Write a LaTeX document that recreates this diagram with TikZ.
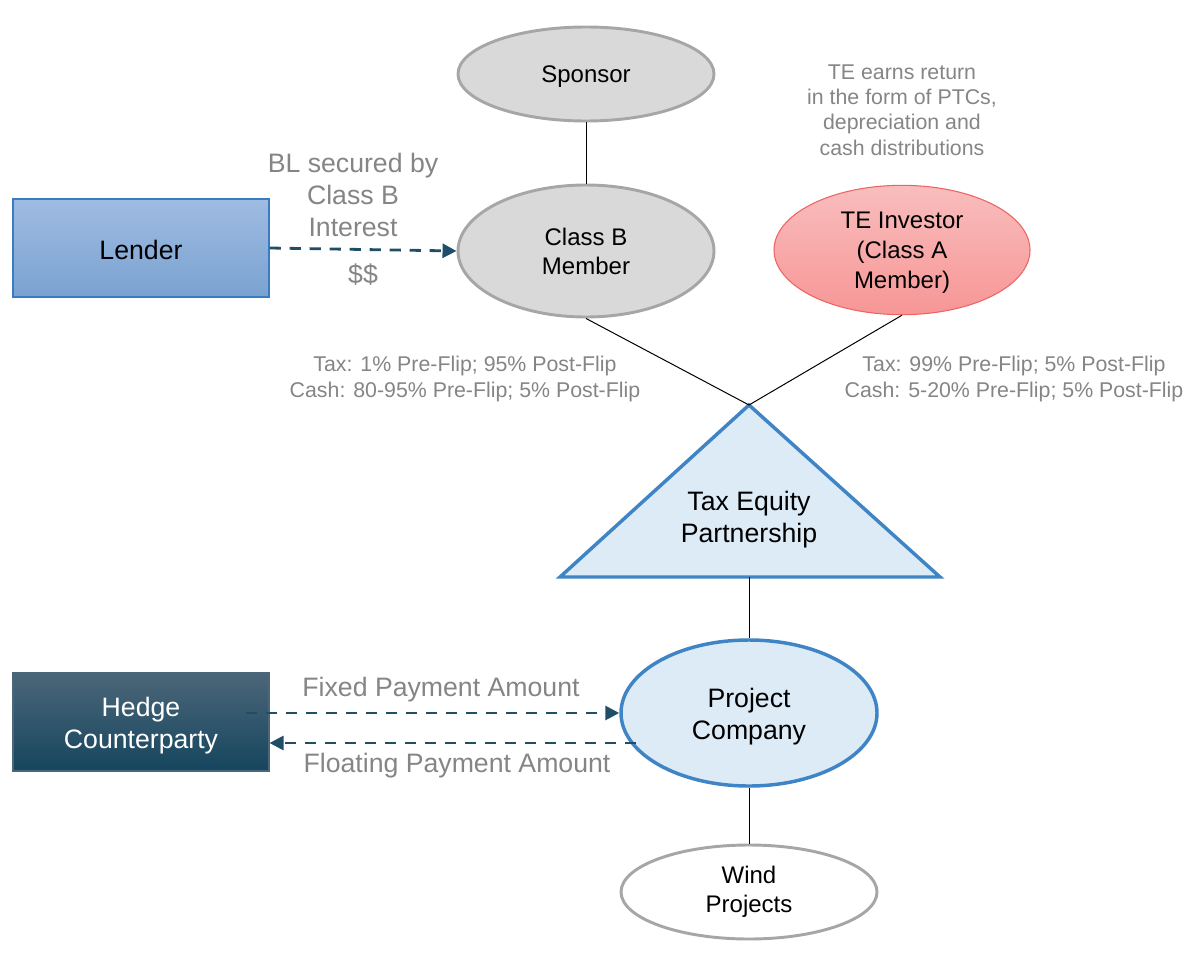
\documentclass[tikz,border=0pt]{standalone}
\usepackage{fontspec}
\setmainfont{Liberation Sans}
\usetikzlibrary{shapes.geometric,arrows.meta}
\definecolor{ggray}{HTML}{D9D9D9}
\definecolor{gborder}{HTML}{A6A6A6}
\definecolor{txtgray}{HTML}{858585}
\definecolor{lblue}{HTML}{DDEBF7}
\definecolor{mblue}{HTML}{3F84C4}
\definecolor{teal}{HTML}{1F4E66}
\definecolor{pinktop}{HTML}{F9BDBD}
\definecolor{pinkbot}{HTML}{F79696}
\definecolor{pinkborder}{HTML}{EE6464}
\definecolor{lendtop}{HTML}{9FBCE2}
\definecolor{lendbot}{HTML}{7AA2D1}
\definecolor{lendborder}{HTML}{3A7CC0}
\definecolor{hedgetop}{HTML}{4C6679}
\definecolor{hedgebot}{HTML}{15465E}
\begin{document}
\begin{tikzpicture}[x=0.75pt,y=-0.75pt,
  grayell/.style={ellipse,draw=gborder,line width=2.2pt,fill=ggray,inner sep=0pt,align=center,minimum width=192pt},
  blueell/.style={ellipse,draw=mblue,line width=2.6pt,fill=lblue,inner sep=0pt,align=center,minimum width=192pt},
  boxnode/.style={rectangle,inner sep=0pt,align=center,minimum width=192pt,minimum height=73.5pt},
  conn/.style={draw=black,line width=0.75pt},
  dasharrow/.style={draw=teal,line width=2.1pt,dash pattern=on 8.5pt off 6.5pt,-{Triangle[length=10.5pt,width=10.5pt]}},
  note/.style={text=txtgray,align=center},
]
\useasboundingbox (0,0) rectangle (1184,956);
% Sponsor
\node[grayell,minimum height=70.5pt,
  label={[font=\fontsize{18}{21.75}\selectfont,yshift=-2.2pt]center:Sponsor}] (sponsor) at (586,74) {};
% Class B
\node[grayell,minimum height=99pt,font=\fontsize{18}{21.75}\selectfont] (classb) at (586,251) {Class B\\Member};
% TE investor
\node[ellipse,draw=pinkborder,line width=0.8pt,top color=pinktop,bottom color=pinkbot,inner sep=0pt,minimum width=192pt,minimum height=97pt,
  label={[align=center,font=\fontsize{18}{22.5}\selectfont,yshift=-2pt]center:TE Investor\\(Class A\\Member)}] (te) at (902,250) {};
% TE note
\node[note,font=\fontsize{16}{19}\selectfont] (tenote) at (902,110) {TE earns return\\in the form of PTCs,\\depreciation and\\cash distributions};
% Lender
\node[boxnode,draw=lendborder,line width=0.8pt,top color=lendtop,bottom color=lendbot,
  label={[font=\fontsize{20}{24}\selectfont,yshift=-1.5pt]center:Lender}] (lender) at (141,248) {};
% Hedge
\node[boxnode,draw=hedgetop,line width=0.8pt,top color=hedgetop,bottom color=hedgebot,
  label={[align=center,text=white,font=\fontsize{20}{24}\selectfont,yshift=-3pt]center:Hedge\\Counterparty}] (hedge) at (141,722) {};
% Triangle
\coordinate (apex) at (749,405);
\coordinate (bl) at (560,577);
\coordinate (br) at (940,577);
\coordinate (basemid) at (749,577);
\draw[draw=mblue,line width=2.6pt,fill=lblue,line join=miter] (apex) -- (br) -- (bl) -- cycle;
\node[align=center,font=\fontsize{20}{24}\selectfont] (tep) at (749,520) {Tax Equity\\Partnership};
% Project company
\node[blueell,minimum height=109.5pt,
  label={[align=center,font=\fontsize{20}{24}\selectfont,yshift=-2.5pt]center:Project\\Company}] (pc) at (749,713) {};
% Wind
\node[ellipse,draw=gborder,line width=2.2pt,fill=white,inner sep=0pt,align=center,minimum width=192pt,minimum height=70.5pt,font=\fontsize{18}{21.75}\selectfont] (wind) at (749,892) {Wind\\Projects};
% connectors
\draw[conn] (sponsor.south) -- (classb.north);
\draw[conn] (classb.south) -- (apex);
\draw[conn] (te.south) -- (apex);
\draw[conn] (basemid) -- (pc.north);
\draw[conn] (pc.south) -- (wind.north);
% lender arrow
\draw[dasharrow] (lender.east) -- (classb.west);
\node[note,font=\fontsize{20}{24}\selectfont] (blnote) at (353,195) {BL secured by\\Class B\\Interest};
\node[note,font=\fontsize{20}{24}\selectfont] (dollars) at (363,275) {\$\$};
% tax notes
\node[note,font=\fontsize{16}{19.5}\selectfont] (taxl) at (465,379) {Tax: 1\% Pre-Flip; 95\% Post-Flip\\Cash: 80-95\% Pre-Flip; 5\% Post-Flip};
\node[note,font=\fontsize{16}{19.5}\selectfont] (taxr) at (1014,379) {Tax: 99\% Pre-Flip; 5\% Post-Flip\\Cash: 5-20\% Pre-Flip; 5\% Post-Flip};
% hedge arrows
\coordinate (fixstart) at (246,713);
\coordinate (floatstart) at (636,743);
\draw[dasharrow] (fixstart) -- (pc.west);
\draw[dasharrow] (floatstart) -- (hedge.east |- floatstart);
\node[note,font=\fontsize{20}{24}\selectfont] (fixed) at (441,690) {Fixed Payment Amount};
\node[note,font=\fontsize{20}{24}\selectfont] (floating) at (457,766) {Floating Payment Amount};
\end{tikzpicture}
\end{document}
